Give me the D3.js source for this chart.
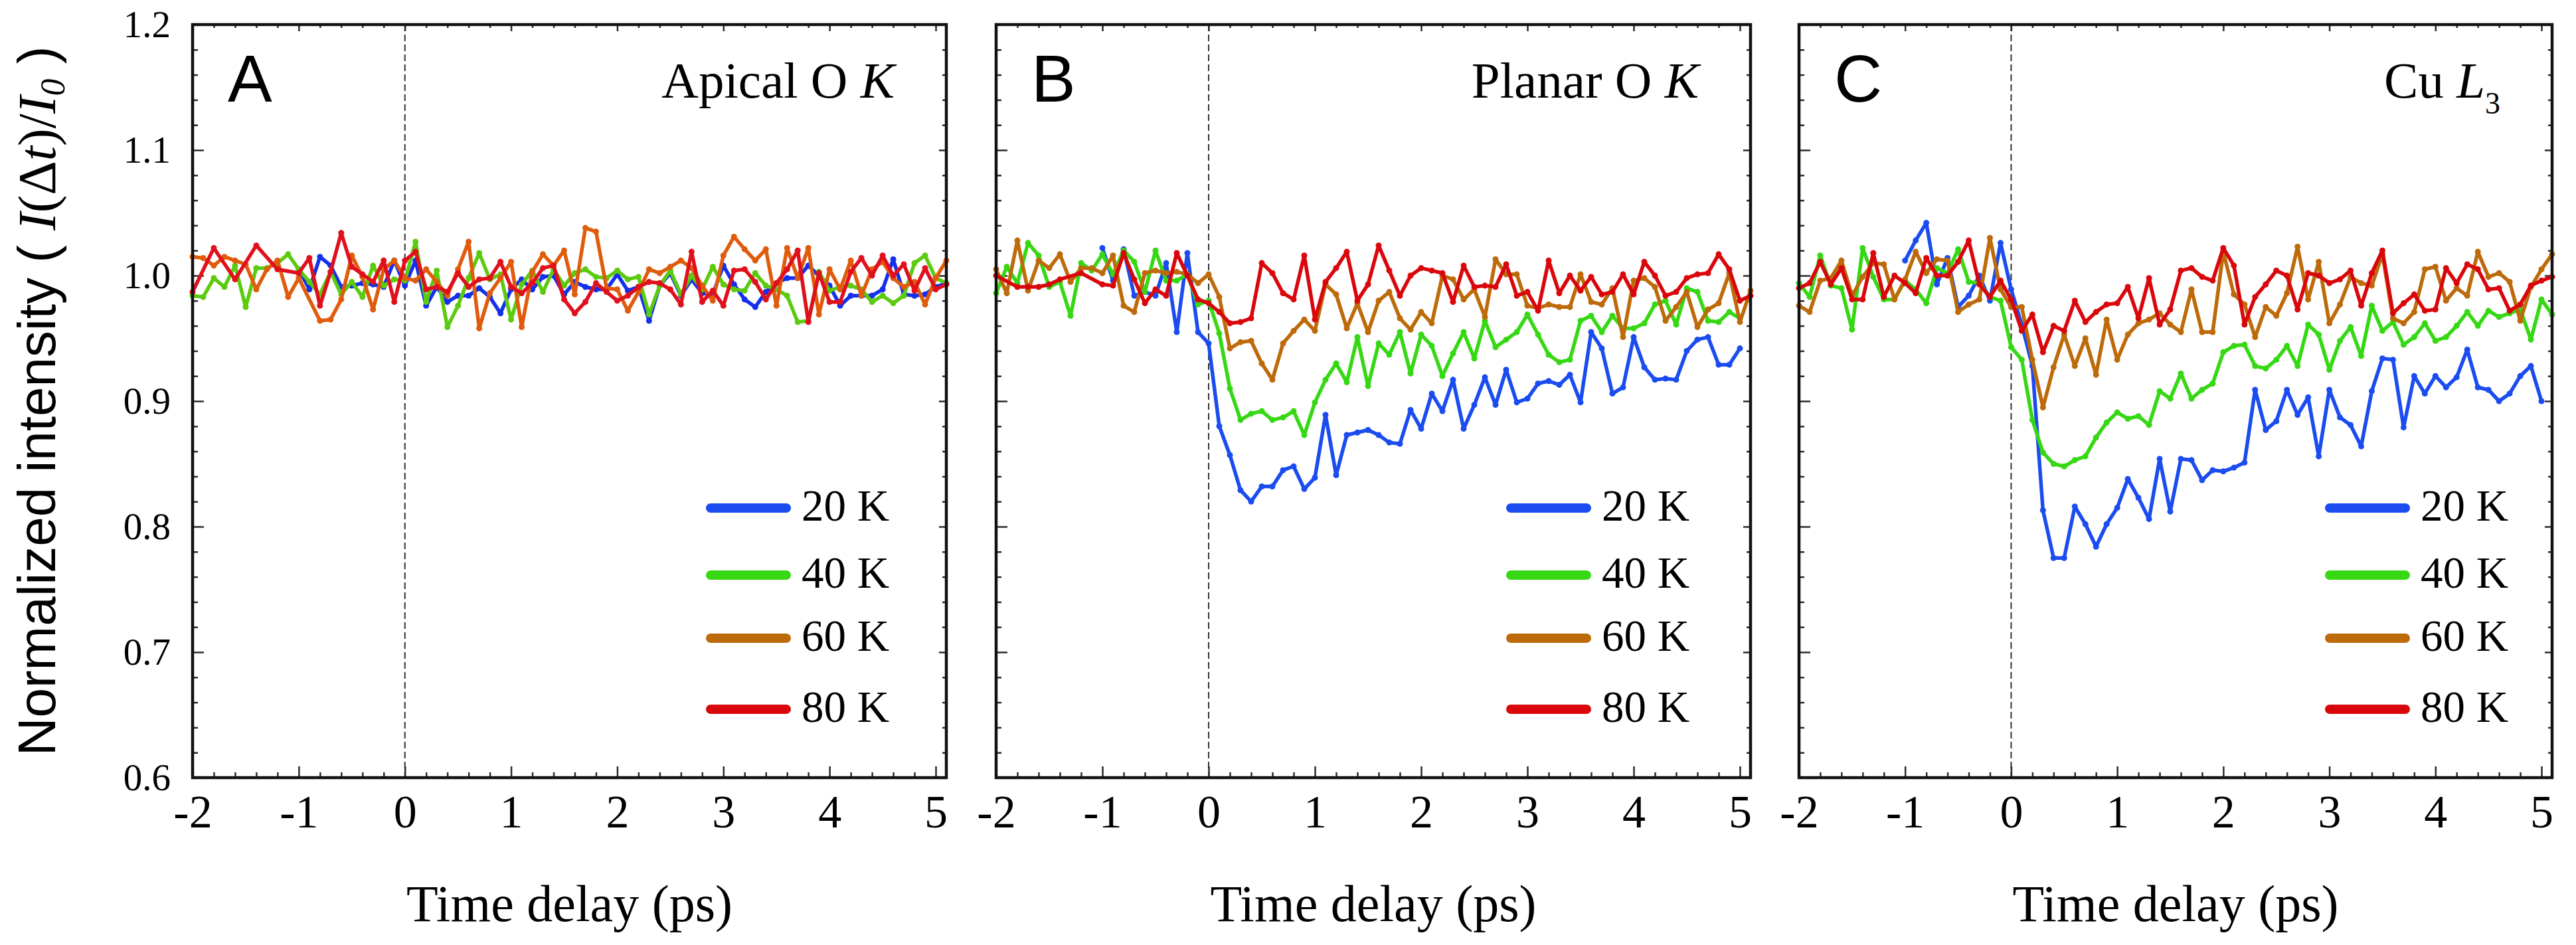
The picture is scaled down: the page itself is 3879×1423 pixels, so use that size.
<!DOCTYPE html>
<html>
<head>
<meta charset="utf-8">
<script src="https://cdn.jsdelivr.net/npm/d3@7"></script>
<style>
  body { margin: 0; background: #fff; }
  svg { display: block; }
</style>
</head>
<body>
<script>
// time grid shared by every trace (ps)
const delays = [
  -2.0, -1.9, -1.8, -1.7, -1.6, -1.5, -1.4, -1.3, -1.2, -1.1,
  -1.0, -0.9, -0.8, -0.7, -0.6, -0.5, -0.4, -0.3, -0.2, -0.1,
   0.0,  0.1,  0.2,  0.3,  0.4,  0.5,  0.6,  0.7,  0.8,  0.9,
   1.0,  1.1,  1.2,  1.3,  1.4,  1.5,  1.6,  1.7,  1.8,  1.9,
   2.0,  2.1,  2.2,  2.3,  2.4,  2.5,  2.6,  2.7,  2.8,  2.9,
   3.0,  3.1,  3.2,  3.3,  3.4,  3.5,  3.6,  3.7,  3.8,  3.9,
   4.0,  4.1,  4.2,  4.3,  4.4,  4.5,  4.6,  4.7,  4.8,  4.9,
   5.0,  5.1
];

// A - apical O K
const apical20 = [
  null, null, null, null, null, null, null, null, null, null,
  1.005, 0.989, 1.015, 1.008, 0.991, 0.992, 0.994, 0.993, 0.991, 1.012,
  0.992, 1.012, 0.976, 0.991, 0.979, 0.984, 0.984, 0.990, 0.983, 0.970,
  0.989, 0.997, 0.989, 0.999, 1.000, 0.985, 0.995, 0.991, 0.989, 0.989,
  1.001, 0.988, 0.991, 0.964, 0.992, 1.002, 0.984, 0.997, 0.986, 0.985,
  1.008, 0.993, 0.981, 0.975, 0.987, 0.994, 0.998, 0.998, 1.008, 1.000,
  0.992, 0.976, 0.984, 0.984, 0.984, 0.989, 1.013, 0.985, 0.984, 0.985,
  0.991, 0.994
];
const apical40 = [
  0.984, 0.983, 0.998, 0.991, 1.008, 0.975, 1.006, 1.006, 1.010, 1.017,
  1.005, 0.995, 0.985, 1.003, 0.985, 0.995, 0.983, 1.008, 0.992, 0.997,
  0.996, 1.027, 0.979, 1.004, 0.959, 0.976, 0.998, 1.018, 0.997, 1.001,
  0.965, 0.993, 1.004, 0.987, 1.005, 0.992, 1.002, 1.005, 0.999, 0.998,
  1.004, 0.997, 0.999, 0.969, 0.992, 1.004, 0.985, 1.000, 0.989, 1.007,
  0.993, 0.989, 0.988, 1.002, 0.992, 0.989, 0.984, 0.963, 0.964, 1.003,
  0.988, 0.991, 0.992, 0.989, 0.979, 0.984, 0.978, 0.984, 1.010, 1.016,
  0.998, 0.994
];
const apical60 = [
  1.015, 1.014, 1.008, 1.015, 1.012, 1.009, 0.989, 1.005, 1.012, 0.983,
  0.998, null, 0.964, 0.965, 0.981, 1.016, 0.999, 0.973, 1.005, 1.012,
  0.998, 0.996, 1.005, 0.995, 0.984, 1.005, 1.027, 0.958, 0.986, 0.998,
  1.011, 0.959, 1.003, 1.017, 1.008, 1.020, 0.985, 1.038, 1.035, 0.990,
  0.989, 0.972, 0.987, 1.005, 1.002, 1.007, 1.012, 1.006, 0.992, 0.980,
  1.016, 1.031, 1.021, 1.012, 1.021, 0.976, 1.022, 0.998, 1.022, 0.969,
  1.005, 0.989, 1.012, 0.984, 1.005, 1.011, 0.998, 0.991, 0.995, 0.977,
  0.998, 1.012
];
const apical80 = [
  0.987, null, 1.022, null, 0.997, null, 1.024, null, 1.005, null,
  1.002, 1.014, 0.976, 1.003, 1.034, 1.007, 1.001, 0.995, 1.012, 0.979,
  1.012, 1.019, 0.989, 0.991, 0.987, 1.002, 0.991, 0.997, 0.998, 1.011,
  0.991, 0.986, 0.994, 1.006, 1.008, 0.981, 0.970, 0.979, 0.994, 0.987,
  0.980, 0.984, 0.991, 0.995, 0.994, 0.989, 0.977, 1.019, 0.979, 0.988,
  0.976, 1.004, 1.005, 0.995, 0.981, 0.994, 1.005, 1.020, 0.963, 1.002,
  0.979, 0.979, 1.003, 1.014, 1.000, 1.016, 1.000, 1.009, 0.988, 1.006,
  0.989, 0.993
];

// B - planar O K
const planar20 = [
  null, null, null, null, null, null, null, null, null, null,
  1.022, 0.996, 1.021, 0.984, 0.987, 0.984, 1.010, 0.955, 1.018, 0.955,
  0.946, 0.880, 0.857, 0.829, 0.820, 0.832, 0.832, 0.845, 0.848, 0.830,
  0.839, 0.889, 0.841, 0.873, 0.875, 0.877, 0.873, 0.867, 0.866, 0.893,
  0.878, 0.906, 0.892, 0.917, 0.878, 0.897, 0.919, 0.897, 0.925, 0.899,
  0.902, 0.914, 0.916, 0.913, 0.921, 0.899, 0.955, 0.942, 0.906, 0.911,
  0.951, 0.927, 0.917, 0.918, 0.917, 0.940, 0.949, 0.951, 0.929, 0.929,
  0.942, null
];
const planar40 = [
  0.986, 1.007, 0.994, 1.026, 1.016, 0.991, 0.995, 0.968, 1.010, 1.004,
  1.017, 1.001, 1.020, 1.011, 0.987, 1.020, 0.996, 0.996, 1.001, 0.977,
  0.980, 0.954, 0.910, 0.885, 0.890, 0.892, 0.885, 0.887, 0.892, 0.873,
  0.899, 0.917, 0.930, 0.915, 0.951, 0.912, 0.946, 0.937, 0.955, 0.922,
  0.953, 0.944, 0.920, 0.938, 0.955, 0.934, 0.964, 0.943, 0.949, 0.955,
  0.969, 0.953, 0.937, 0.931, 0.933, 0.964, 0.968, 0.955, 0.968, 0.958,
  0.958, 0.962, 0.977, 0.980, 0.961, 0.990, 0.987, 0.964, 0.963, 0.971,
  0.966, null
];
const planar60 = [
  1.005, 0.986, 1.028, 0.988, 1.012, 1.006, 1.017, 0.995, 1.006, 1.006,
  1.002, 1.016, 0.976, 0.971, 1.002, 1.004, 1.002, 1.003, 1.001, 0.994,
  1.001, 0.983, 0.942, 0.947, 0.948, 0.930, 0.917, 0.946, 0.956, 0.965,
  0.956, 0.993, 0.985, 0.958, 0.978, 0.955, 0.980, 0.987, 0.966, 0.957,
  0.971, 0.962, 1.000, 0.997, 0.981, 0.989, 0.967, 1.013, 1.001, 1.001,
  0.976, 0.974, 0.977, 0.975, 0.975, 1.001, 0.979, 0.977, 0.990, 0.951,
  0.996, 0.998, 0.991, 0.964, 0.975, 0.987, 0.959, 0.973, 0.978, 1.002,
  0.963, 0.988
];
const planar80 = [
  1.000, null, 0.991, 0.991, 0.991, 0.993, 0.997, null, 1.002, null,
  0.993, 0.992, 1.018, 0.997, 0.978, 0.989, 0.984, 1.018, 1.000, 0.981,
  0.978, 0.971, 0.962, 0.963, 0.966, 1.010, 1.002, 0.986, 0.981, 1.016,
  0.965, 0.995, 1.006, 1.019, 0.980, 0.993, 1.024, 1.004, 0.984, 1.000,
  1.006, 1.004, 1.002, 0.979, 1.008, 0.991, 0.992, 0.991, 1.009, 0.984,
  0.987, 0.972, 1.012, 0.986, 1.000, 0.988, 0.999, 0.985, 0.987, 1.001,
  0.985, 1.011, 1.000, 0.984, 0.987, 0.998, 1.001, 1.002, 1.017, 1.005,
  0.980, 0.984
];

// C - Cu L3
const cu20 = [
  null, null, null, null, null, null, null, null, null, null,
  1.012, 1.028, 1.042, 0.993, 1.014, 0.975, 0.984, 1.000, 0.980, 1.026,
  0.989, 0.961, 0.928, 0.813, 0.775, 0.775, 0.816, 0.802, 0.784, 0.802,
  0.815, 0.838, 0.823, 0.806, 0.854, 0.812, 0.854, 0.853, 0.837, 0.845,
  0.844, 0.847, 0.851, 0.909, 0.877, 0.884, 0.909, 0.889, 0.903, 0.856,
  0.909, 0.887, 0.881, 0.864, 0.908, 0.934, 0.933, 0.879, 0.920, 0.906,
  0.920, 0.911, 0.919, 0.941, 0.911, 0.909, 0.900, 0.906, 0.920, 0.928,
  0.900, null
];
const cu40 = [
  0.994, 0.983, 1.016, 0.992, 0.990, 0.957, 1.022, 0.999, 0.981, 0.981,
  0.996, 0.989, 0.978, 1.006, 1.002, 1.021, 0.995, 0.994, 0.983, 0.980,
  0.943, 0.933, 0.885, 0.859, 0.850, 0.848, 0.853, 0.856, 0.871, 0.883,
  0.891, 0.886, 0.888, 0.881, 0.908, 0.902, 0.922, 0.902, 0.909, 0.914,
  0.939, 0.944, 0.945, 0.928, 0.926, 0.933, 0.944, 0.928, 0.961, 0.953,
  0.925, 0.948, 0.959, 0.936, 0.976, 0.956, 0.963, 0.945, 0.951, 0.962,
  0.948, 0.951, 0.960, 0.971, 0.960, 0.972, 0.967, 0.970, 0.973, 0.949,
  0.981, 0.969
];
const cu60 = [
  0.976, 0.971, 0.996, 0.998, 1.012, 0.984, 0.999, 1.010, 1.009, 0.981,
  0.997, 1.019, 1.002, 1.013, 1.012, 0.971, 0.977, 0.981, 1.030, 0.989,
  0.975, 0.975, 0.933, 0.895, 0.927, 0.953, 0.928, 0.950, 0.921, 0.965,
  0.933, 0.953, 0.962, 0.965, 0.970, 0.961, 0.955, 0.989, 0.955, 0.955,
  1.019, 0.985, 0.977, 0.951, 0.975, 0.968, 0.986, 1.023, 0.981, 1.011,
  0.962, 0.977, 0.999, 0.994, 0.992, 1.017, 0.966, 0.962, 0.971, 1.005,
  1.007, 0.980, 0.990, 0.984, 1.019, 0.999, 1.002, 0.995, 0.964, 0.991,
  1.005, 1.017
];
const cu80 = [
  0.990, 0.994, 1.011, 0.993, 1.006, 0.981, 0.981, 1.018, 0.983, 1.000,
  0.994, 0.986, 1.014, 1.000, 1.000, 1.011, 1.028, 0.993, 0.983, 0.996,
  0.981, 0.956, 0.969, 0.939, 0.960, 0.956, 0.980, 0.963, 0.971, 0.977,
  0.978, 0.991, 0.966, 0.998, 0.961, 0.973, 1.004, 1.006, 0.999, 0.996,
  1.022, 1.008, 0.961, 0.983, 0.993, 1.004, 1.000, 0.973, 1.002, 1.000,
  0.994, 0.997, 1.004, 0.976, 1.002, 1.020, 0.970, 0.978, 0.985, 0.972,
  0.973, 1.006, 0.994, 1.009, 1.005, 0.989, 0.990, 0.972, 0.977, 0.992,
  0.996, 0.999
];

const temps = ["20 K", "40 K", "60 K", "80 K"];
const xTicks = [-2, -1, 0, 1, 2, 3, 4, 5];
const yTicks = [0.6, 0.7, 0.8, 0.9, 1.0, 1.1, 1.2];
const yTickLabels = ["0.6", "0.7", "0.8", "0.9", "1.0", "1.1", "1.2"];

const legendColors = ["#1b4cf0", "#36d814", "#bd6a0a", "#d9070c"];
const apicalColors = ["#1530ec", "#5ccb10", "#e05c0c", "#e0101c"];

const serif = "'Liberation Serif', 'Times New Roman', Times, serif";
const sans = "'Liberation Sans', Arial, Helvetica, sans-serif";

const width = 3879, height = 1423;
const plotTop = 37, plotBottom = 1171;

const panels = [
  {letter: "A", left: 290, right: 1425, legendX: 1070, colors: apicalColors,
   series: [apical20, apical40, apical60, apical80], title: "apical"},
  {letter: "B", left: 1500, right: 2636, legendX: 2275, colors: legendColors,
   series: [planar20, planar40, planar60, planar80], title: "planar"},
  {letter: "C", left: 2709, right: 3843, legendX: 3508, colors: legendColors,
   series: [cu20, cu40, cu60, cu80], title: "cu"}
];
const legendY = [765, 866, 961, 1068];

const svg = d3.select("body").append("svg")
    .attr("width", width)
    .attr("height", height);

const y = d3.scaleLinear().domain([0.6, 1.2]).range([plotBottom, plotTop]);
const xMinor = d3.range(-2, 5.101, 0.2).filter(v => Math.abs(v - Math.round(v)) > 0.01);
const yMinor = d3.range(0.6, 1.2001, 0.02).filter(v => Math.abs(v * 10 - Math.round(v * 10)) > 0.01);

function tidy(sel) {
  sel.select(".domain").remove();
  sel.selectAll(".tick line").attr("stroke", "#2a2a2a").attr("stroke-width", 2.5);
}

panels.forEach((p, pi) => {
  const x = d3.scaleLinear().domain([-2, 5.1]).range([p.left, p.right]);
  const g = svg.append("g");

  // zero delay marker
  g.append("line")
      .attr("x1", x(0)).attr("x2", x(0))
      .attr("y1", plotTop).attr("y2", plotBottom)
      .attr("stroke", "#333")
      .attr("stroke-width", 2)
      .attr("stroke-dasharray", "10,5");

  // ticks, all pointing inward
  const bottomMajor = g.append("g").attr("transform", `translate(0,${plotBottom})`)
      .call(d3.axisBottom(x).tickValues(xTicks).tickSize(-17).tickFormat(d => String(d)));
  tidy(bottomMajor);
  bottomMajor.selectAll("text")
      .attr("y", 75).attr("dy", 0)
      .style("font-family", serif).style("font-size", "70px").attr("fill", "#000");
  tidy(g.append("g").attr("transform", `translate(0,${plotBottom})`)
      .call(d3.axisBottom(x).tickValues(xMinor).tickSize(-8).tickFormat("")));
  tidy(g.append("g").attr("transform", `translate(0,${plotTop})`)
      .call(d3.axisTop(x).tickValues(xTicks).tickSize(-10).tickFormat("")));
  tidy(g.append("g").attr("transform", `translate(0,${plotTop})`)
      .call(d3.axisTop(x).tickValues(xMinor).tickSize(-5).tickFormat("")));

  const leftMajor = g.append("g").attr("transform", `translate(${p.left},0)`)
      .call(d3.axisLeft(y).tickValues(yTicks).tickSize(-17)
        .tickFormat((d, i) => pi === 0 ? yTickLabels[i] : ""));
  tidy(leftMajor);
  leftMajor.selectAll("text")
      .attr("x", -33).attr("dy", "0.33em")
      .style("font-family", serif).style("font-size", "57px").attr("fill", "#000");
  tidy(g.append("g").attr("transform", `translate(${p.left},0)`)
      .call(d3.axisLeft(y).tickValues(yMinor).tickSize(-8).tickFormat("")));
  tidy(g.append("g").attr("transform", `translate(${p.right},0)`)
      .call(d3.axisRight(y).tickValues(yTicks).tickSize(-11).tickFormat("")));
  tidy(g.append("g").attr("transform", `translate(${p.right},0)`)
      .call(d3.axisRight(y).tickValues(yMinor).tickSize(-6).tickFormat("")));

  // traces
  const line = d3.line().x(d => x(d[0])).y(d => y(d[1]));
  p.series.forEach((vals, i) => {
    const pts = delays.map((t, k) => [t, vals[k]]).filter(d => d[1] !== null);
    g.append("path")
        .datum(pts)
        .attr("d", line)
        .attr("fill", "none")
        .attr("stroke", p.colors[i])
        .attr("stroke-width", 5.5)
        .attr("stroke-linejoin", "round");
    g.append("g").selectAll("circle")
        .data(pts)
        .join("circle")
          .attr("cx", d => x(d[0]))
          .attr("cy", d => y(d[1]))
          .attr("r", 4.5)
          .attr("fill", p.colors[i]);
  });

  // frame
  g.append("rect")
      .attr("x", p.left).attr("y", plotTop)
      .attr("width", p.right - p.left).attr("height", plotBottom - plotTop)
      .attr("fill", "none")
      .attr("stroke", "#111")
      .attr("stroke-width", 4.5);

  // panel letter
  g.append("text")
      .attr("x", p.left + 53).attr("y", 153)
      .style("font-family", sans).style("font-size", "100px")
      .text(p.letter);

  // panel title
  const title = g.append("text")
      .attr("x", p.right - 78).attr("y", 147)
      .attr("text-anchor", "end")
      .style("font-family", serif).style("font-size", "77px");
  if (p.title === "apical") {
    title.append("tspan").text("Apical O ");
    title.append("tspan").attr("font-style", "italic").text("K");
  } else if (p.title === "planar") {
    title.append("tspan").text("Planar O ");
    title.append("tspan").attr("font-style", "italic").text("K");
  } else {
    title.append("tspan").text("Cu ");
    title.append("tspan").attr("font-style", "italic").text("L");
    title.append("tspan").style("font-size", "46px").attr("dy", 24).text("3");
  }

  // legend
  temps.forEach((label, i) => {
    g.append("line")
        .attr("x1", p.legendX).attr("x2", p.legendX + 114)
        .attr("y1", legendY[i]).attr("y2", legendY[i])
        .attr("stroke", legendColors[i])
        .attr("stroke-width", 14)
        .attr("stroke-linecap", "round");
    g.append("text")
        .attr("x", p.legendX + 137).attr("y", legendY[i] + 19)
        .style("font-family", serif).style("font-size", "67px")
        .text(label);
  });

  // x axis title
  g.append("text")
      .attr("x", (p.left + p.right) / 2).attr("y", 1387)
      .attr("text-anchor", "middle")
      .style("font-family", serif).style("font-size", "78px")
      .text("Time delay (ps)");
});

// y axis title
const yTitle = svg.append("text")
    .attr("transform", "translate(83,604) rotate(-90)")
    .attr("text-anchor", "middle")
    .style("font-family", sans)
    .style("font-size", "80px");
yTitle.append("tspan").text("Normalized intensity ( ");
yTitle.append("tspan").style("font-family", serif).attr("font-style", "italic").text("I");
yTitle.append("tspan").style("font-family", serif).text("(\u0394");
yTitle.append("tspan").style("font-family", serif).attr("font-style", "italic").text("t");
yTitle.append("tspan").style("font-family", serif).text(")/");
yTitle.append("tspan").style("font-family", serif).attr("font-style", "italic").text("I");
yTitle.append("tspan").style("font-family", serif).attr("font-style", "italic")
    .style("font-size", "52px").attr("dy", 14).text("0");
yTitle.append("tspan").attr("dy", -14).text(" )");
</script>
</body>
</html>
